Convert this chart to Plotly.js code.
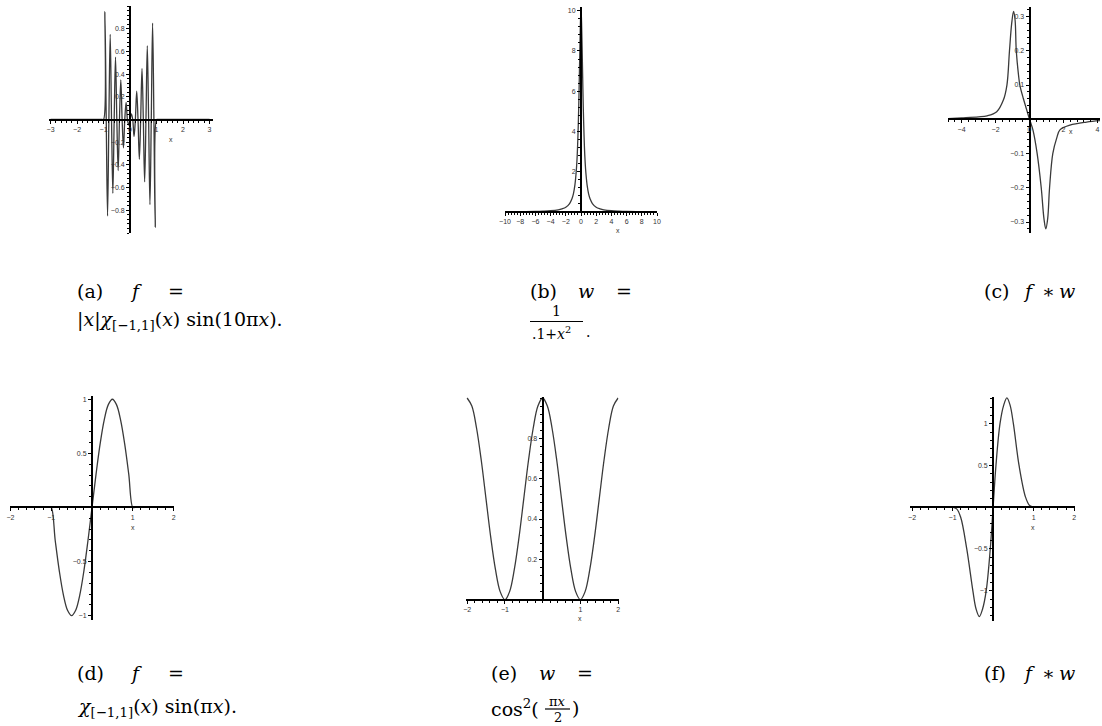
<!DOCTYPE html>
<html>
<head>
<meta charset="utf-8">
<script src="https://cdn.plot.ly/plotly-3.0.1.min.js"></script>
<style>
  body { margin: 0; background: #fff; }
  #fig { width: 1102px; height: 726px; }
</style>
</head>
<body>
<div id="fig"></div>
<script>
// (a) f = |x| chi(x) sin(10 pi x)  -- peaks and zeros
var aX = [-3, -2, -1.5, -1.1, -1.05, -1, -0.95, -0.9, -0.85, -0.8, -0.75, -0.7, -0.65, -0.6, -0.55, -0.5, -0.45, -0.4, -0.35, -0.3,
  -0.25, -0.2, -0.15, -0.1, -0.05, 0, 0.05, 0.1, 0.15, 0.2, 0.25, 0.3, 0.35, 0.4, 0.45, 0.5, 0.55, 0.6,
  0.65, 0.7, 0.75, 0.8, 0.85, 0.9, 0.95, 1, 1.05, 1.1, 1.5, 2, 3];
var aY = [0, 0, 0, 0, 0, 0, 0.95, 0, -0.85, 0, 0.75, 0, -0.65, 0, 0.55, 0, -0.45, 0, 0.35, 0,
  -0.25, 0, 0.15, 0, -0.05, 0, 0.05, 0, -0.15, 0, 0.25, 0, -0.35, 0, 0.45, 0, -0.55, 0,
  0.65, 0, -0.75, 0, 0.85, 0, -0.95, 0, 0, 0, 0, 0, 0];

// (b) w = 1/(.1+x^2)
var bX = [-10, -8, -6, -5, -4, -3, -2.5, -2, -1.5, -1.2, -1, -0.8, -0.7, -0.6, -0.5, -0.4, -0.3, -0.25, -0.2, -0.15, -0.1, -0.05, 0,
  0.05, 0.1, 0.15, 0.2, 0.25, 0.3, 0.4, 0.5, 0.6, 0.7, 0.8, 1, 1.2, 1.5, 2, 2.5, 3, 4, 5, 6, 8, 10];
var bY = [0.01, 0.016, 0.028, 0.04, 0.062, 0.11, 0.16, 0.24, 0.42, 0.65, 0.9, 1.35, 1.7, 2.15, 2.8, 3.8, 5.2, 6.1, 7.1, 8.1, 9.0, 9.7, 10,
  9.7, 9.0, 8.1, 7.1, 6.1, 5.2, 3.8, 2.8, 2.15, 1.7, 1.35, 0.9, 0.65, 0.42, 0.24, 0.16, 0.11, 0.062, 0.04, 0.028, 0.016, 0.01];

// (c) f * w
var cX = [-4.8, -4, -3, -2.5, -1.93, -1.54, -1.33, -1.18, -1.05, -0.94, -0.85, -0.78, -0.65, -0.57, -0.36, -0.18, 0,
  0.2, 0.45, 0.69, 0.85, 0.96, 1.07, 1.18, 1.37, 1.6, 1.79, 2.38, 3.36, 4.15];
var cY = [0.002, 0.004, 0.007, 0.01, 0.022, 0.056, 0.1, 0.2, 0.28, 0.315, 0.29, 0.2, 0.13, 0.1, 0.06, 0.03, 0,
  -0.031, -0.1, -0.2, -0.29, -0.32, -0.29, -0.2, -0.1, -0.055, -0.031, -0.017, -0.008, -0.004];

// (d) f = chi(x) sin(pi x)
var dX = [-2, -1.5, -1.1, -1.05, -1, -0.9, -0.8, -0.7, -0.6, -0.5, -0.4, -0.3, -0.2, -0.1, 0, 0.1, 0.2, 0.3, 0.4, 0.5, 0.6, 0.7, 0.8, 0.9, 1, 1.05, 1.1, 1.5, 2];
var dY = [0, 0, 0, 0, 0, -0.31, -0.59, -0.81, -0.95, -1, -0.95, -0.81, -0.59, -0.31, 0, 0.31, 0.59, 0.81, 0.95, 1, 0.95, 0.81, 0.59, 0.31, 0, 0, 0, 0, 0];

// (e) w = cos^2(pi x / 2)
var eX = [-2, -1.875, -1.75, -1.625, -1.5, -1.375, -1.25, -1.125, -1, -0.875, -0.75, -0.625, -0.5, -0.375, -0.25, -0.125, 0,
  0.125, 0.25, 0.375, 0.5, 0.625, 0.75, 0.875, 1, 1.125, 1.25, 1.375, 1.5, 1.625, 1.75, 1.875, 2];
var eY = [1, 0.96, 0.85, 0.69, 0.5, 0.31, 0.15, 0.04, 0, 0.04, 0.15, 0.31, 0.5, 0.69, 0.85, 0.96, 1,
  0.96, 0.85, 0.69, 0.5, 0.31, 0.15, 0.04, 0, 0.04, 0.15, 0.31, 0.5, 0.69, 0.85, 0.96, 1];

// (f) f * w
var fX = [-2, -1.5, -1.1, -1, -0.9, -0.8, -0.65, -0.5, -0.42, -0.34, -0.26, -0.17, -0.07, 0, 0.07, 0.17, 0.26, 0.34, 0.42, 0.5, 0.64, 0.8, 0.9, 1, 1.1, 1.5, 2];
var fY = [0, 0, 0, 0, -0.02, -0.12, -0.5, -1.0, -1.22, -1.31, -1.22, -1.0, -0.5, 0, 0.5, 1.0, 1.22, 1.31, 1.22, 1.0, 0.5, 0.12, 0.02, 0, 0, 0, 0];

var W = 1102, H = 726;
function px(x) { return x / W; }
function py(y) { return 1 - y / H; }

var tickFont = { family: 'Liberation Sans, Arial, sans-serif', size: 7, color: '#333' };
var capFont = { family: 'DejaVu Serif, Liberation Serif, serif', size: 19, color: '#000' };

// panels: pixel boxes of the axes [left, right, top, bottom], ranges, tick values, "x" label spot
var panels = [
  { x: aX, y: aY, xr: [-3.06, 3.13], yr: [-1.0, 1.0], box: [49, 213, 6, 233], xt: [-3, -2, -1, 0, 1, 2, 3], yt: [-0.8, -0.6, -0.4, -0.2, 0.2, 0.4, 0.6, 0.8], xm: 0.2, ym: 0.04, lab: [171, 139] },
  { x: bX, y: bY, xr: [-10, 10], yr: [0, 10.2], box: [505, 657, 6.7, 212], xt: [-10, -8, -6, -4, -2, 0, 2, 4, 6, 8, 10], yt: [2, 4, 6, 8, 10], xm: 0.4, ym: 0.4, lab: [618, 231] },
  { x: cX, y: cY, xr: [-4.8, 4.15], yr: [-0.332, 0.327], box: [948, 1100, 7.3, 233], xt: [-4, -2, 0, 2, 4], yt: [-0.3, -0.2, -0.1, 0.1, 0.2, 0.3], xm: 0.4, ym: 0.02, lab: [1071, 131] },
  { x: dX, y: dY, xr: [-2.01, 2.01], yr: [-1.04, 1.03], box: [10, 174, 396, 620], xt: [-2, -1, 1, 2], yt: [-1, -0.5, 0.5, 1], xm: 0.2, ym: 0.1, lab: [133, 527] },
  { x: eX, y: eY, xr: [-2.03, 2.01], yr: [0, 1.005], box: [466, 618.5, 397, 599.7], xt: [-2, -1, 1, 2], yt: [0.2, 0.4, 0.6, 0.8], xm: 0.2, ym: 0.04, lab: [580, 618] },
  { x: fX, y: fY, xr: [-2.05, 2.02], yr: [-1.36, 1.32], box: [910, 1075, 397, 620.7], xt: [-2, -1, 1, 2], yt: [-1, -0.5, 0.5, 1], xm: 0.2, ym: 0.1, lab: [1033, 527] }
];

function fmt(v) { return String(v).replace('-', '\u2212'); }

var data = [];
var layout = {
  width: W, height: H,
  margin: { l: 0, r: 0, t: 0, b: 0 },
  paper_bgcolor: '#fff', plot_bgcolor: 'rgba(0,0,0,0)',
  showlegend: false,
  annotations: [],
  shapes: []
};

panels.forEach(function (p, i) {
  var n = i === 0 ? '' : String(i + 1);
  var xdom = [px(p.box[0]), px(p.box[1])];
  var ydom = [py(p.box[3]), py(p.box[2])];
  var xpos = ydom[0] + (0 - p.yr[0]) / (p.yr[1] - p.yr[0]) * (ydom[1] - ydom[0]);
  var ypos = xdom[0] + (0 - p.xr[0]) / (p.xr[1] - p.xr[0]) * (xdom[1] - xdom[0]);

  data.push({
    x: p.x, y: p.y, type: 'scatter', mode: 'lines',
    xaxis: 'x' + n, yaxis: 'y' + n,
    line: { color: '#3a3a3a', width: 1.3, shape: 'spline', smoothing: 1 },
    hoverinfo: 'skip'
  });

  var common = {
    anchor: 'free', showline: true, linecolor: '#000', linewidth: 2,
    ticks: 'outside', ticklen: 3, tickwidth: 1, tickcolor: '#000',
    tickfont: tickFont, showgrid: false, zeroline: false, fixedrange: true
  };
  layout['xaxis' + n] = Object.assign({}, common, {
    domain: xdom, range: p.xr, position: xpos,
    tickmode: 'array', tickvals: p.xt, ticktext: p.xt.map(fmt),
    minor: { dtick: p.xm, tick0: 0, ticks: 'outside', ticklen: 2, tickcolor: '#000' }
  });
  layout['yaxis' + n] = Object.assign({}, common, {
    domain: ydom, range: p.yr, position: ypos,
    tickmode: 'array', tickvals: p.yt, ticktext: p.yt.map(fmt),
    minor: { dtick: p.ym, tick0: 0, ticks: 'outside', ticklen: 2, tickcolor: '#000' }
  });

  layout.annotations.push({
    xref: 'paper', yref: 'paper', x: px(p.lab[0]), y: py(p.lab[1]),
    xanchor: 'center', yanchor: 'middle',
    text: 'x', showarrow: false, font: tickFont
  });
});

function cap(x, y, text, size, anchor) {
  layout.annotations.push({
    xref: 'paper', yref: 'paper', x: px(x), y: py(y),
    xanchor: anchor || 'left', yanchor: 'middle', showarrow: false,
    text: text, font: Object.assign({}, capFont, size ? { size: size } : {})
  });
}

// (a)
cap(75, 291, '(a)');
cap(128, 291, '<i>f</i>');
cap(166, 291, '=');
cap(75, 320, '|<i>x</i>|<i>χ</i><sub>[−1,1]</sub>(<i>x</i>) sin(10π<i>x</i>).');
// (b)
cap(528, 291, '(b)');
cap(576, 291, '<i>w</i>');
cap(614, 291, '=');
cap(556.5, 311, '1', 14, 'center');
cap(530, 333, '.1+<i>x</i><sup>2</sup>', 14);
cap(584, 332, '.', 14);
layout.shapes.push({ type: 'line', xref: 'paper', yref: 'paper', x0: px(530), x1: px(583), y0: py(321.5), y1: py(321.5), line: { color: '#000', width: 1.2 } });
// (c)
cap(982, 291, '(c)');
cap(1021, 291, '<i>f</i>');
cap(1040, 291, '∗');
cap(1057, 291, '<i>w</i>');
// (d)
cap(75, 673, '(d)');
cap(128, 673, '<i>f</i>');
cap(166, 673, '=');
cap(75, 707, '<i>χ</i><sub>[−1,1]</sub>(<i>x</i>) sin(π<i>x</i>).');
// (e)
cap(489, 673, '(e)');
cap(537, 673, '<i>w</i>');
cap(575, 673, '=');
cap(489, 708, 'cos<sup>2</sup>(');
cap(557.5, 701, 'π<i>x</i>', 13, 'center');
cap(557.5, 717, '2', 13, 'center');
cap(570, 708, ')');
layout.shapes.push({ type: 'line', xref: 'paper', yref: 'paper', x0: px(545), x1: px(570), y0: py(709), y1: py(709), line: { color: '#000', width: 1.2 } });
// (f)
cap(982, 673, '(f)');
cap(1021, 673, '<i>f</i>');
cap(1040, 673, '∗');
cap(1057, 673, '<i>w</i>');

Plotly.newPlot('fig', data, layout, { staticPlot: true });
</script>
</body>
</html>
